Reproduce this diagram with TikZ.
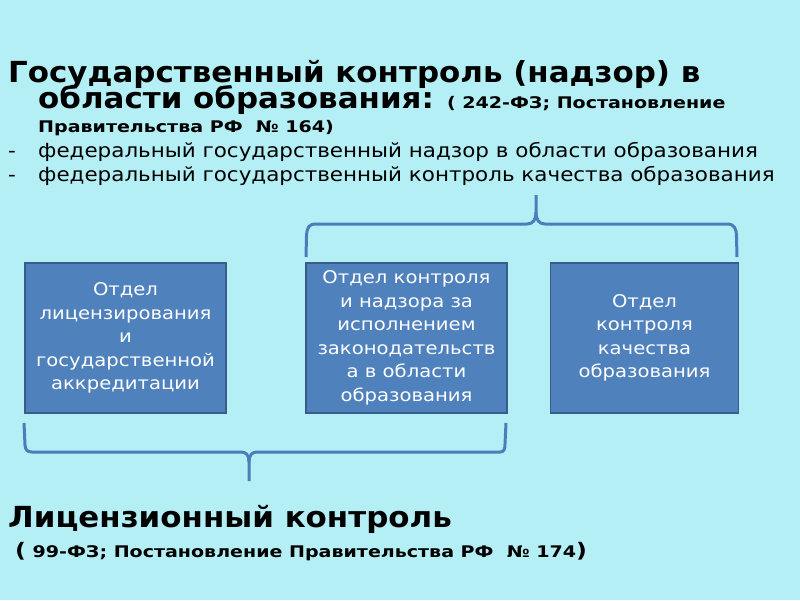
\documentclass[tikz,border=0pt]{standalone}
\usepackage{fontspec}
\setmainfont{DejaVu Sans}
\newfontfamily\bigfont[FakeStretch=1.066]{DejaVu Sans}
\newfontfamily\smallfont[FakeStretch=1.19]{DejaVu Sans}
\newfontfamily\itemfont[FakeStretch=1.1]{DejaVu Sans}
\newfontfamily\boxfont[FakeStretch=1.12]{DejaVu Sans}
\newcommand\smallbold{\smallfont\fontsize{16}{18}\selectfont\bfseries}
\definecolor{bg}{HTML}{B3EFF5}
\definecolor{boxfill}{HTML}{4F81BD}
\definecolor{boxline}{HTML}{385D8A}
\definecolor{brace}{HTML}{4A7EBB}
\begin{document}
\begin{tikzpicture}[x=1pt,y=-1pt,
  dept/.style={draw=boxline,line width=1.5pt,fill=boxfill,text=white,
    align=center,font=\boxfont\fontsize{17.5}{23.5}\selectfont,inner sep=0pt},
  bracel/.style={draw=brace,line width=3pt,line join=round},
  big/.style={anchor=base west,inner sep=0pt,font=\bigfont\fontsize{29}{34}\selectfont\bfseries},
  small/.style={anchor=base west,inner sep=0pt,font=\smallbold},
  item/.style={anchor=base west,inner sep=0pt,font=\itemfont\fontsize{19.5}{24}\selectfont}]
\fill[bg] (0,0) rectangle (800,600);
\useasboundingbox (0,0) rectangle (800,600);
% title (three lines in one block)
\node[big] (t1) at (8,82) {\vtop{\baselineskip=26pt\lineskiplimit=-100pt\lineskip=0pt
  \hbox{Государственный контроль (надзор) в}
  \hbox{\hspace*{30pt}области образования:{\smallbold\ \ ( 242-ФЗ; Постановление}}
  \baselineskip=24pt
  \hbox{\hspace*{30pt}{\smallbold Правительства РФ \ № 164)}}}};
\node[item] (d1) at (8,157) {-};
\node[item] (i1) at (38,157) {федеральный государственный надзор в области образования};
\node[item] (d2) at (8,181) {-};
\node[item] (i2) at (38,181) {федеральный государственный контроль качества образования};
% boxes
\node[dept,minimum width=201pt,minimum height=150pt] (b1) at (125.5,338)
  {Отдел\\лицензирования\\и\\государственной\\аккредитации};
\node[dept,minimum width=201pt,minimum height=150pt] (b2) at (406.5,338)
  {Отдел контроля\\и надзора за\\исполнением\\законодательств\\а в области\\образования};
\node[dept,minimum width=188pt,minimum height=150pt] (b3) at (644.5,338)
  {Отдел\\контроля\\качества\\образования};
% top brace
\coordinate (tl) at (306,257);
\coordinate (tr) at (737,257);
\coordinate (tt) at (536,195);
\draw[bracel] (tl) -- (306.5,236) .. controls (307,227) and (309,224) .. (316,224)
  -- (527,224) .. controls (533,224) and (536,220) .. (536,212) -- (tt);
\draw[bracel] (536,212) .. controls (536,220) and (539,224) .. (545,224)
  -- (727,224) .. controls (734,224) and (736.5,228) .. (736.5,237) -- (tr);
% bottom brace
\coordinate (bl) at (24,423);
\coordinate (br) at (506,423);
\coordinate (bt) at (249,481);
\draw[bracel] (bl) -- (25,445) .. controls (25.5,450) and (27,452) .. (32,452)
  -- (241,452) .. controls (246,452) and (249,455) .. (249,462) -- (bt);
\draw[bracel] (249,462) .. controls (249,455) and (252,452) .. (257,452)
  -- (500,452) .. controls (504,452) and (505,449) .. (505,444) -- (br);
% lower title
\node[big] (l1) at (8,527) {Лицензионный контроль};
\node[small] (l2) at (15,557) {{\fontsize{20}{20}\selectfont(}\ 99-ФЗ; Постановление Правительства РФ \ № 174{\fontsize{20}{20}\selectfont)}};
\end{tikzpicture}
\end{document}
